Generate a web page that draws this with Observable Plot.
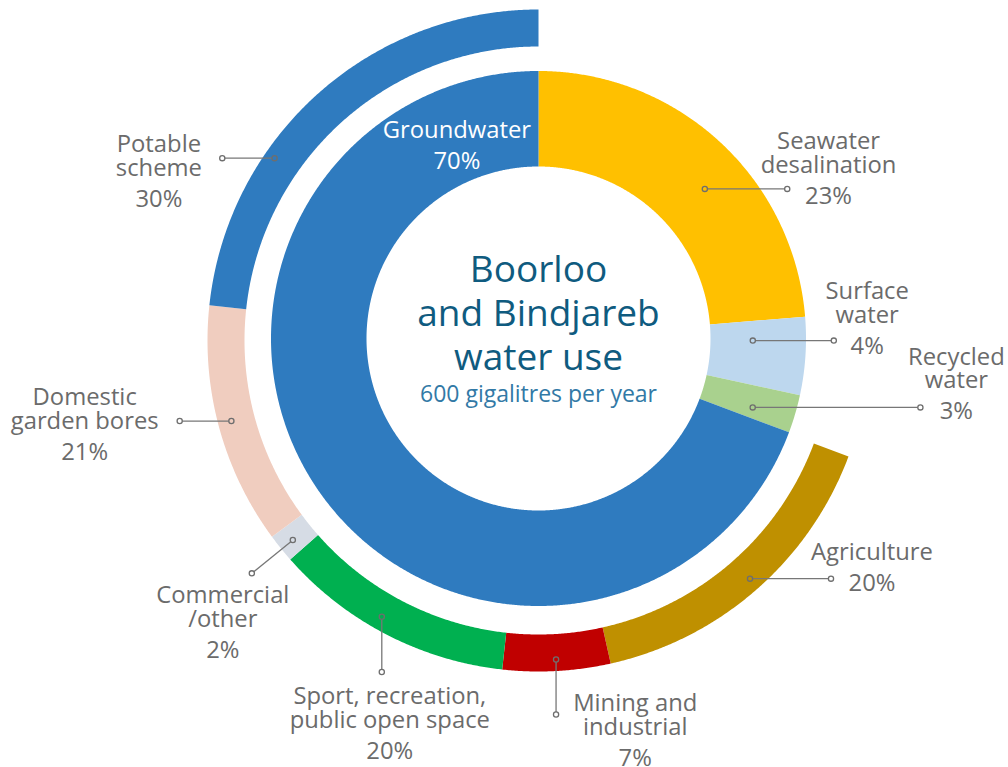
<!DOCTYPE html>
<html><head><meta charset="utf-8">
<script src="https://cdn.jsdelivr.net/npm/d3@7"></script>
<script src="https://cdn.jsdelivr.net/npm/@observablehq/plot@0.6"></script>
<style>
html,body{margin:0;padding:0;background:#fff;}
#chart svg{display:block;font-family:"Open Sans",sans-serif;}
</style>
</head><body><div id="chart"></div>
<script>
// ---- data ----
const sources = ["Seawater\ndesalination", "Surface\nwater", "Recycled\nwater", "Groundwater"];
const sourceShare = [23.7, 4.7, 2.3, 69.3];          // share of all water, as drawn
const sourcePct = ["23%", "4%", "3%", "70%"];
const uses = ["Agriculture", "Mining and\nindustrial", "Sport, recreation,\npublic open space", "Commercial\n/other", "Domestic\ngarden bores", "Potable\nscheme"];
const useShare = [15.8, 5.25, 11.75, 1.4, 11.8, 23.3]; // share of all water, as drawn
const usePct = ["20%", "7%", "20%", "2%", "21%", "30%"];
const titleLines = ["Boorloo", "and Bindjareb", "water use"];
const subtitle = "600 gigalitres per year";

// ---- styles ----
const sourceColors = ["#FFC000", "#BDD7EE", "#A9D18E", "#2F7BBF"];
const useColors = ["#BF9000", "#C00000", "#00B050", "#D6DCE5", "#F0CDBF", "#2F7BBF"];
const W = 1008, H = 767;
const inner = {cx: 538, cy: 338, r0: 172, r1: 267.5};
const outer = {cx: 538, cy: 340, r0: 294, r1: 331};
const labelGray = "#6b6b6b";
// label layout: position in arc (t), radius of anchor, leader vector, text offset
const sourceLayout = [
  {t: 0.563, r: 223.7, l: [82.4, 0], tx: [41.3, -40]},
  {t: 0.31, r: 214.3, l: [81, 0], tx: [33.4, -41.4]},
  {t: 0.675, r: 225, l: [167.7, 0], tx: [36, -42.7]},
  {t: 0.906, r: 205, l: null, tx: [0, -12.3], fill: "#ffffff"}
];
const useLayout = [
  {t: 0.49, r: 318.5, l: [81, 0], tx: [41, -18.4]},
  {t: 0.5, r: 319.5, l: [0, 55], tx: [79.2, -3.3]},
  {t: 0.55, r: 317.6, l: [0, 55.3], tx: [8, 32]},
  {t: 0.46, r: 316.5, l: [-41, 33.3], tx: [-29, 30]},
  {t: 0.51, r: 317.5, l: [-51.7, 0], tx: [-95, -16]},
  {t: 0.34, r: 320.8, l: [-52.3, 0], tx: [-63.4, -6]}
];

// ---- geometry ----
const srcData = sources.map((name, i) => ({name, share: sourceShare[i], pct: sourcePct[i], color: sourceColors[i], layout: sourceLayout[i], ring: inner}));
const useData = uses.map((name, i) => ({name, share: useShare[i], pct: usePct[i], color: useColors[i], layout: useLayout[i], ring: outer}));
const pieIn = d3.pie().sort(null).value(d => d.share)(srcData);
const gw = pieIn[3];
const pieOut = d3.pie().sort(null).value(d => d.share).startAngle(gw.startAngle).endAngle(gw.endAngle)(useData);

const polar = (g, r, a) => [g.cx + r * Math.sin(a), g.cy - r * Math.cos(a)];
const polys = [];
[...pieIn, ...pieOut].forEach((a, k) => {
  const g = a.data.ring;
  const n = Math.max(2, Math.ceil((a.endAngle - a.startAngle) / 0.005));
  for (let i = 0; i <= n; i++) {
    const [x, y] = polar(g, g.r1, a.startAngle + (a.endAngle - a.startAngle) * i / n);
    polys.push({id: k, x, y, color: a.data.color});
  }
  for (let i = n; i >= 0; i--) {
    const [x, y] = polar(g, g.r0, a.startAngle + (a.endAngle - a.startAngle) * i / n);
    polys.push({id: k, x, y, color: a.data.color});
  }
});

const links = [], dots = [], texts = [];
const dotR = 2.6;
[...pieIn, ...pieOut].forEach(a => {
  const L = a.data.layout, g = a.data.ring;
  const ang = a.startAngle + (a.endAngle - a.startAngle) * L.t;
  const [ax, ay] = polar(g, L.r, ang);
  let ex = ax, ey = ay;
  if (L.l) {
    ex = ax + L.l[0]; ey = ay + L.l[1];
    const len = Math.hypot(L.l[0], L.l[1]);
    const ux = L.l[0] / len, uy = L.l[1] / len;
    links.push({x1: ax + ux * dotR, y1: ay + uy * dotR, x2: ex - ux * dotR, y2: ey - uy * dotR});
    dots.push({x: ax, y: ay}, {x: ex, y: ey});
  }
  const tx = ex + L.tx[0];
  let ty = ey + L.tx[1];
  const fill = L.fill || labelGray;
  const lines = a.data.name.split("\n");
  lines.forEach((s, i) => texts.push({x: tx, y: ty + i * 23.8, text: s, fill}));
  texts.push({x: tx, y: ty + (lines.length - 1) * 23.8 + 31, text: a.data.pct, fill});
});

const titleRows = titleLines.map((s, i) => ({x: inner.cx, y: inner.cy - 56.3 + i * 44, text: s}));
const subRows = [{x: inner.cx, y: inner.cy + 63, text: subtitle}];

const chart = Plot.plot({
  width: W, height: H, margin: 0,
  x: {domain: [0, W], range: [0, W], axis: null},
  y: {domain: [0, H], range: [0, H], axis: null},
  color: {type: "identity"},
  style: {background: "#fff", fontFamily: "'Open Sans', sans-serif"},
  marks: [
    Plot.line(polys, {x: "x", y: "y", z: "id", fill: "color", stroke: "none", curve: "linear"}),
    Plot.link(links, {x1: "x1", y1: "y1", x2: "x2", y2: "y2", stroke: "#777777", strokeWidth: 1.3}),
    Plot.dot(dots, {x: "x", y: "y", r: dotR, fill: "none", stroke: "#6e6e6e", strokeWidth: 1.3}),
    Plot.text(texts, {x: "x", y: "y", text: "text", fill: "fill", fontSize: 23.8, lineAnchor: "bottom", textAnchor: "middle"}),
    Plot.text(titleRows, {x: "x", y: "y", text: "text", fill: "#0F5B7F", fontSize: 37, lineAnchor: "bottom", textAnchor: "middle"}),
    Plot.text(subRows, {x: "x", y: "y", text: "text", fill: "#3279A6", fontSize: 23, lineAnchor: "bottom", textAnchor: "middle"})
  ]
});
document.getElementById("chart").appendChild(chart);
</script>
</body></html>
